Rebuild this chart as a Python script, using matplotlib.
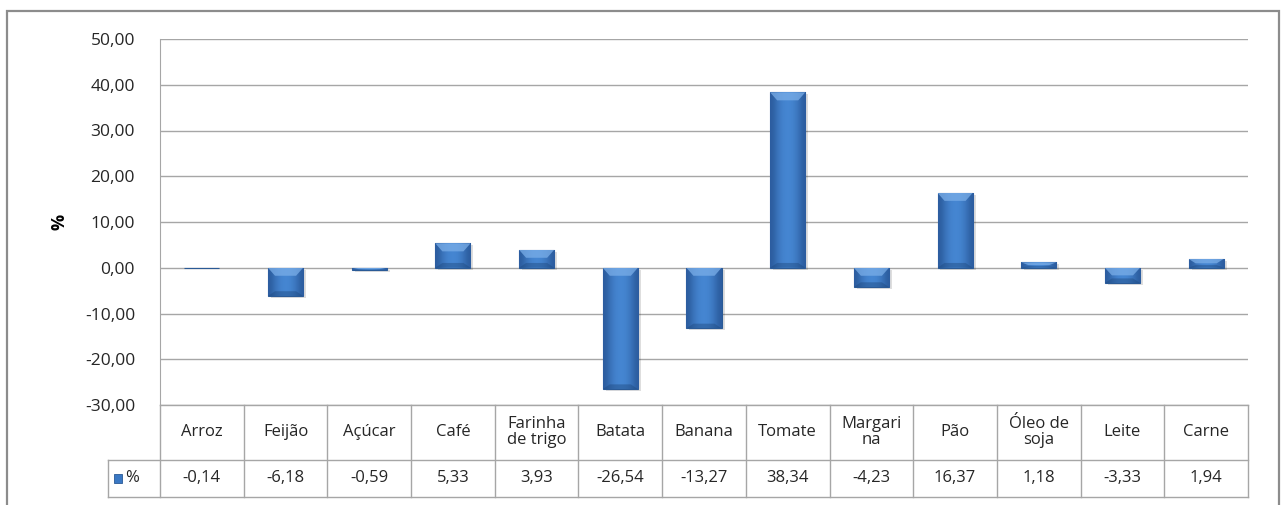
import matplotlib.pyplot as plt
import matplotlib.transforms as mtransforms
from matplotlib.patches import Rectangle, Polygon
from matplotlib.colors import LinearSegmentedColormap
import numpy as np

# data
produtos = ['Arroz', 'Feijão', 'Açúcar', 'Café', 'Farinha\nde trigo', 'Batata', 'Banana',
            'Tomate', 'Margari\nna', 'Pão', 'Óleo de\nsoja', 'Leite', 'Carne']
variacao = [-0.14, -6.18, -0.59, 5.33, 3.93, -26.54, -13.27, 38.34, -4.23, 16.37, 1.18, -3.33, 1.94]
serie = '%'
yticks = [-30, -20, -10, 0, 10, 20, 30, 40, 50]

plt.rcParams['font.family'] = ['Open Sans', 'DejaVu Sans']

W, H = 1282, 505
fig = plt.figure(figsize=(W / 100, H / 100), dpi=100)

# outer chart border
fig.add_artist(Rectangle((6.5 / W, -0.05), (1279 - 6.5) / W, 1.05 - 10.5 / H,
                         transform=fig.transFigure, fill=False, ec='#8c8c8c', lw=1.6))

left, right, top, bottom = 160, 1248, 39, 405
ax = fig.add_axes([left / W, 1 - bottom / H, (right - left) / W, (bottom - top) / H])

x = np.arange(len(produtos))
ax.set_xlim(-0.5, len(produtos) - 0.5)
ax.set_ylim(-30, 50)
ax.set_yticks(yticks)
ax.set_yticklabels([f'{v:.2f}'.replace('.', ',') for v in yticks], fontsize=12.5, color='#262626')
ax.tick_params(axis='y', length=0, pad=18)
ax.set_xticks([])
ax.yaxis.grid(True, color='#a6a6a6', lw=1)
ax.set_axisbelow(True)
for s in ['top', 'right', 'bottom']:
    ax.spines[s].set_visible(False)
ax.spines['left'].set_color('#a6a6a6')
ax.set_ylabel('%', fontsize=13, fontweight='bold', labelpad=12)

# shadows
ax.bar(x + 0.035, variacao, width=0.42, bottom=-0.4, color='#000000', alpha=0.13, zorder=2)
bars = ax.bar(x, variacao, width=0.42, color='#3a78c4', edgecolor='#2a5a96', lw=0.8, zorder=3)

# bevel look: horizontal gradient clipped to each bar, light top, dark bottom
grad = np.array([[0.0, 0.55, 0.9, 1.0, 0.9, 0.55, 0.0]])
cm = LinearSegmentedColormap.from_list('bev', ['#2c5d9f', '#4687d3'])
ppu = (bottom - top) / 80.0  # pixels per unit
bev = 8 / ppu
for b in bars:
    x0, y0, w, h = b.get_x(), b.get_y(), b.get_width(), b.get_height()
    yb, yt = min(y0, y0 + h), max(y0, y0 + h)
    im = ax.imshow(grad, cmap=cm, aspect='auto', extent=(x0, x0 + w, yb, yt),
                   zorder=3.5, interpolation='bicubic')
    im.set_clip_path(b)
    d = min(bev, (yt - yb) / 2)
    p1 = Polygon([[x0, yt], [x0 + w, yt], [x0 + w * 0.8, yt - d], [x0 + w * 0.2, yt - d]],
                 closed=True, fc='#7aaee8', alpha=0.75, lw=0, zorder=3.6)
    p2 = Polygon([[x0, yb], [x0 + w, yb], [x0 + w * 0.8, yb + d * 0.6], [x0 + w * 0.2, yb + d * 0.6]],
                 closed=True, fc='#1f4a80', alpha=0.45, lw=0, zorder=3.6)
    for p in (p1, p2):
        ax.add_patch(p)
        p.set_clip_path(b)
ax.set_xlim(-0.5, len(produtos) - 0.5)
ax.set_ylim(-30, 50)

# data table under the plot
tr = mtransforms.blended_transform_factory(ax.transData, ax.transAxes)
px = 1.0 / (bottom - top)
y_head = -(460 - bottom) * px
y_val = -(497 - bottom) * px
xl = -0.5 - (left - 108) * len(produtos) / (right - left)
lc = '#a6a6a6'
lk = dict(color=lc, lw=1, transform=tr, clip_on=False)
ax.plot([-0.5, 12.5], [0, 0], **lk)
ax.plot([xl, 12.5], [y_head, y_head], **lk)
ax.plot([xl, 12.5], [y_val, y_val], **lk)
ax.plot([xl, xl], [y_head, y_val], **lk)
ax.plot([-0.5, -0.5], [0, y_val], **lk)
for i in range(len(produtos)):
    ax.plot([i + 0.5, i + 0.5], [0, y_val], **lk)
    ax.text(i, y_head / 2, produtos[i], transform=tr, ha='center', va='center',
            fontsize=12, color='#262626', linespacing=1.0)
    ax.text(i, (y_head + y_val) / 2, f'{variacao[i]:.2f}'.replace('.', ','), transform=tr,
            ha='center', va='center', fontsize=12, color='#262626')

# legend key in the table
kx = xl + 0.07
ax.add_patch(Rectangle((kx, (y_head + y_val) / 2 - 0.012), 0.1, 0.024, transform=tr,
                       clip_on=False, fc='#3a78c4', ec='#2a5a96', lw=0.6))
ax.text(kx + 0.14, (y_head + y_val) / 2, serie, transform=tr, ha='left', va='center',
        fontsize=12, color='#262626')

fig.savefig('out.png', dpi=100)
